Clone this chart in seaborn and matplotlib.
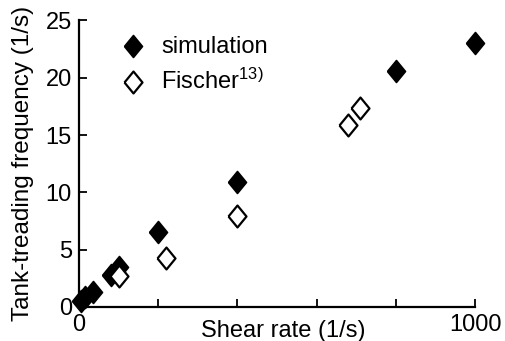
import matplotlib
matplotlib.use('Agg')
import matplotlib.pyplot as plt
import pandas as pd
import seaborn as sns

# Data
sim_rate = [5, 15, 35, 80, 100, 200, 400, 800, 1000]
sim_freq = [0.5, 0.9, 1.3, 2.8, 3.5, 6.5, 10.9, 20.6, 23.0]
fis_rate = [100, 220, 400, 680, 710]
fis_freq = [2.7, 4.3, 7.9, 15.9, 17.4]

x_ticks = [0, 200, 400, 600, 800, 1000]
x_ticklabels = ['0', '', '', '', '', '1000']
y_ticks = [0, 5, 10, 15, 20, 25]

df_sim = pd.DataFrame({'rate': sim_rate, 'freq': sim_freq})
df_fis = pd.DataFrame({'rate': fis_rate, 'freq': fis_freq})

sns.set_style('ticks')
plt.rcParams['font.family'] = ['Liberation Sans', 'DejaVu Sans']
plt.rcParams['text.color'] = 'black'
plt.rcParams['axes.labelcolor'] = 'black'
plt.rcParams['mathtext.fontset'] = 'custom'
plt.rcParams['mathtext.rm'] = 'Liberation Sans'
plt.rcParams['mathtext.it'] = 'Liberation Sans:italic'

# tall diamond marker
diamond = [(-0.82, 0), (0, 1), (0.82, 0), (0, -1), (-0.82, 0)]

fig = plt.figure(figsize=(5.06, 3.41), dpi=100)
ax = fig.add_axes([0.156, 0.1, 0.783, 0.84])

sns.scatterplot(data=df_sim, x='rate', y='freq', ax=ax, marker=diamond, s=250,
                color='black', edgecolor='black', linewidth=1.2, clip_on=False,
                label='simulation', zorder=3)
sns.scatterplot(data=df_fis, x='rate', y='freq', ax=ax, marker=diamond, s=250,
                facecolor='white', edgecolor='black', linewidth=1.6, clip_on=False,
                label='Fischer$^{\\mathrm{13)}}$', zorder=3)

ax.set_xlim(0, 1000)
ax.set_ylim(0, 25)
ax.set_xticks(x_ticks)
ax.set_xticklabels(x_ticklabels)
ax.set_yticks(y_ticks)
ax.tick_params(direction='in', length=6, width=1.3, labelsize=17, colors='black', pad=5)

for side in ['top', 'right']:
    ax.spines[side].set_visible(False)
for side in ['left', 'bottom']:
    ax.spines[side].set_linewidth(1.6)
    ax.spines[side].set_color('black')

ax.set_xlabel('Shear rate (1/s)', fontsize=17, color='black')
ax.set_ylabel('Tank-treading frequency (1/s)', fontsize=17.5, color='black')
ax.xaxis.set_label_coords(0.515, -0.045)
ax.yaxis.set_label_coords(-0.113, 0.5)

leg = ax.legend(loc='upper left', bbox_to_anchor=(0.083, 0.98), frameon=False, fontsize=17,
                handlelength=1.0, handletextpad=0.7, labelspacing=0.45, borderaxespad=0)
for t in leg.get_texts():
    t.set_color('black')

fig.savefig('out.png', dpi=100)
